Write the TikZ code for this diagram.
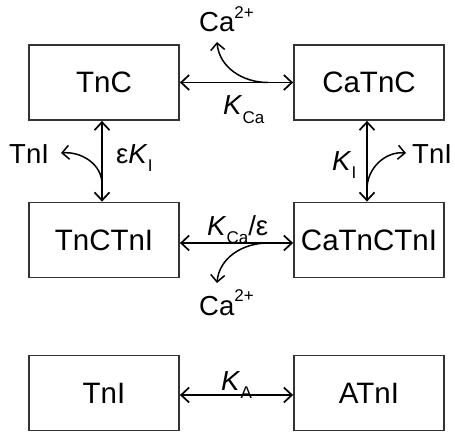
\documentclass[tikz,border=0pt]{standalone}
\usepackage{fontspec}
\setmainfont{Liberation Sans}
\usetikzlibrary{arrows.meta}
\newcommand\lowsub[1]{\raisebox{-0.3em}{\fontsize{17}{17}\selectfont #1}}
\newcommand\highsup[1]{\raisebox{0.5em}{\fontsize{17}{17}\selectfont #1}}
\definecolor{linec}{HTML}{333333}
\begin{document}
\begin{tikzpicture}[x=1pt,y=-1pt,
  box/.style={draw=linec, line width=1.8pt, minimum width=150pt, minimum height=75pt, inner sep=0pt, font=\fontsize{29.5}{31}\selectfont},
  lab/.style={inner sep=0pt, anchor=base west, font=\fontsize{27.5}{29}\selectfont},
  conn/.style={draw=black, line width=1.7pt, {Straight Barb[length=8pt,width=15pt]}-{Straight Barb[length=8pt,width=15pt]}},
  bendarr/.style={draw=black, line width=1.5pt, -{Straight Barb[length=7pt,width=14pt]}}]
\useasboundingbox (0,0) rectangle (455,433);
% boxes
\node[box] (tnc) at (104,82.5) {TnC};
\node[box] (catnc) at (369,82.5) {CaTnC};
\node[box] (tnctni) at (104,240) {TnCTnI};
\node[box] (catnctni) at (369,240) {CaTnCTnI};
\node[box] (tni) at (104,393) {TnI};
\node[box] (atni) at (369,393) {ATnI};
% labels
\node[lab] (ca1) at (199,32) {Ca\highsup{2+}};
\node[lab] (kca) at (223,115) {\textit{K}\lowsub{Ca}};
\node[lab] (tniL) at (9,163) {TnI};
\node[lab] (eki) at (116,163) {ε\textit{K}\lowsub{I}};
\node[lab] (ki) at (332,170) {\textit{K}\lowsub{I}};
\node[lab] (tniR) at (412,163) {TnI};
\node[lab] (kcae) at (207,235) {\textit{K}\lowsub{Ca}/ε};
\node[lab] (ca2) at (199,315) {Ca\highsup{2+}};
\node[lab] (ka) at (221,390) {\textit{K}\lowsub{A}};
% straight connectors
\draw[conn] (tnc.east) -- (catnc.west);
\draw[conn] ([yshift=-3pt]tnctni.east) -- ([yshift=-3pt]catnctni.west);
\draw[conn] ([yshift=-2pt]tni.east) -- ([yshift=-2pt]atni.west);
\draw[conn] ([xshift=-2pt]tnc.south) -- ([xshift=-2pt]tnctni.north);
\draw[conn] ([xshift=-2pt]catnc.south) -- ([xshift=-2pt]catnctni.north);
% branch coordinates
\coordinate (b1) at (268,82.5);
\coordinate (e1) at (217,42);
\coordinate (b2) at (268,243);
\coordinate (e2) at (217,283);
\coordinate (b3) at (102,184);
\coordinate (e3) at (61,153);
\coordinate (b4) at (367,189);
\coordinate (e4) at (406,153);
\draw[bendarr] (b1) to[out=180,in=-85] (e1);
\draw[bendarr] (b2) to[out=180,in=85] (e2);
\draw[bendarr] (b3) to[out=90,in=5] (e3);
\draw[bendarr] (b4) to[out=90,in=175] (e4);
\end{tikzpicture}
\end{document}
